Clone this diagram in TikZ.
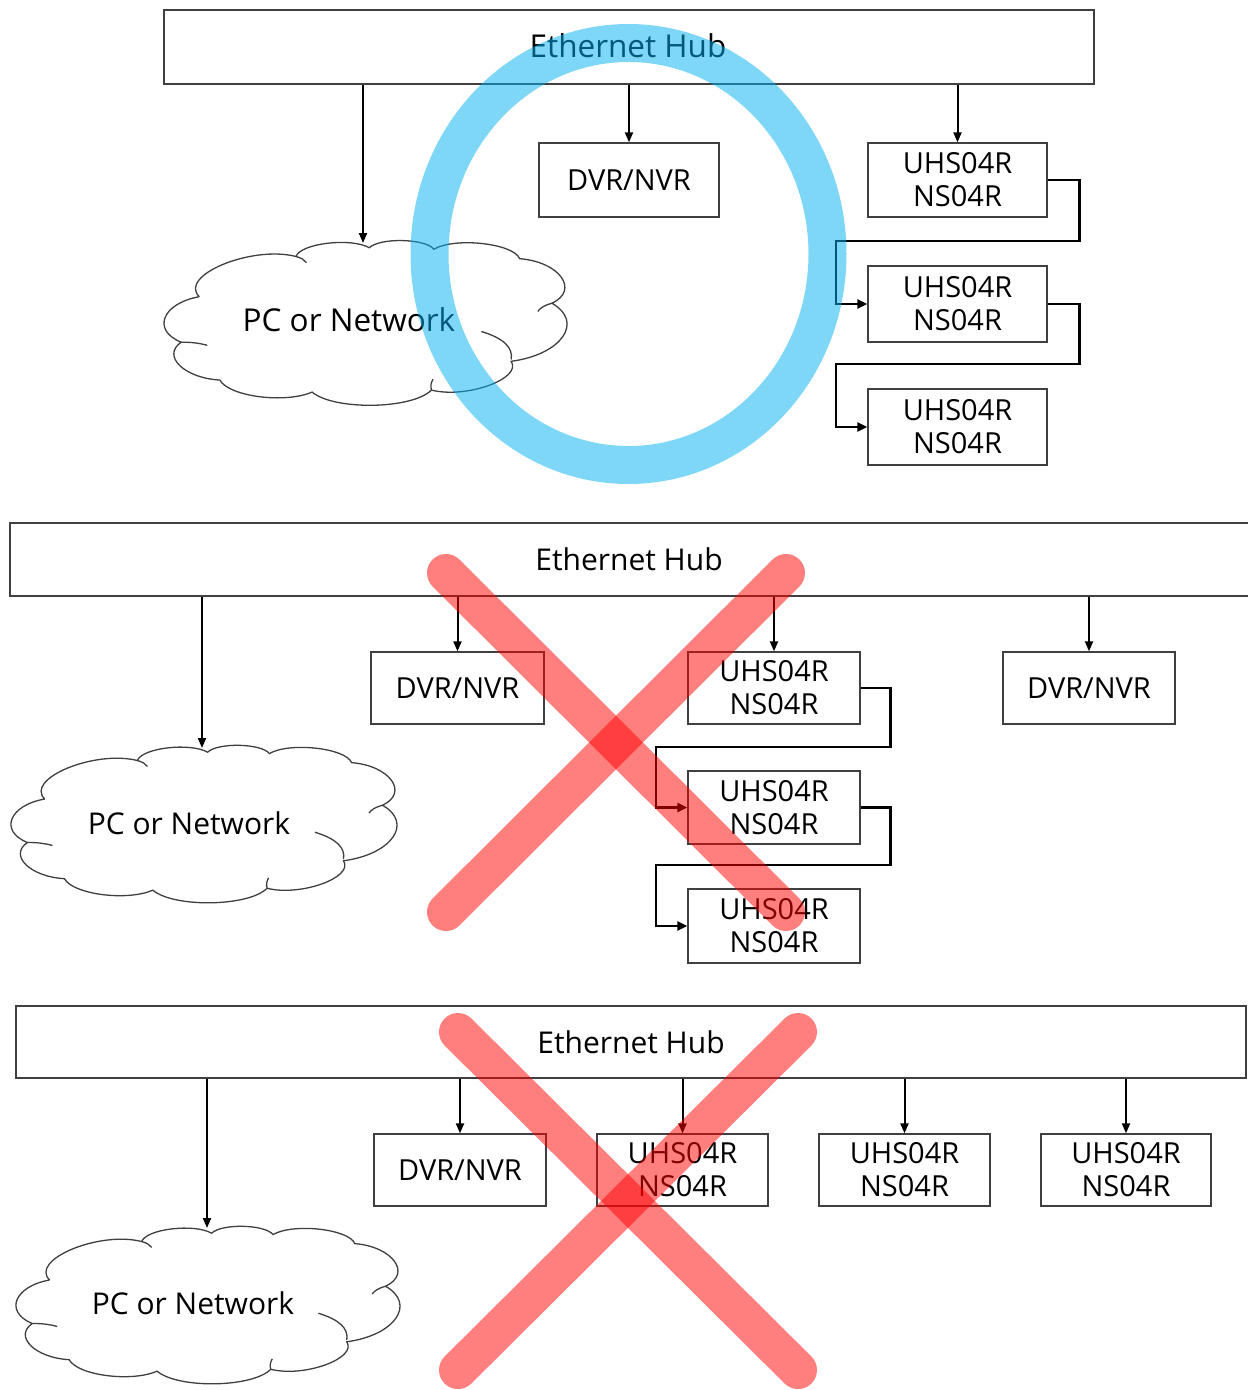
\documentclass[tikz,border=0pt]{standalone}
\usepackage{fontspec}
\setmainfont{Open Sans}
\usetikzlibrary{arrows.meta,calc}
\definecolor{hl}{HTML}{00B0F0}
\definecolor{edge}{HTML}{404040}
\tikzset{
  box/.style={draw=edge,line width=1.3pt,inner sep=0pt,align=center,
    font=\fontsize{29}{33}\selectfont,text=black},
  lbl/.style={inner sep=0pt,font=\fontsize{30}{34}\selectfont,text=black},
  lblbig/.style={inner sep=0pt,font=\fontsize{31.5}{35}\selectfont,text=black},
  arr/.style={line width=2pt,-{Triangle[length=10pt,width=8pt]}},
  elbow/.style={line width=2.6pt,-{Triangle[length=10pt,width=9pt]}},
  cloudline/.style={draw=edge,line width=1.3pt},
  ring/.style={draw=hl,opacity=0.5,line width=38pt},
  cross/.style={draw=red,opacity=0.5,line width=38pt,line cap=round},
}
\newcommand\officecloud[4]{%
\begin{scope}[shift={(#1,#2)},xscale=#3,yscale=#4]
\draw[cloudline] (0.090,0.339) to[bend left=72] (0.330,0.118)
  to[bend left=66] (0.512,0.070) to[bend left=68] (0.672,0.078)
  to[bend left=66] (0.885,0.130) to[bend left=62] (0.965,0.375)
  to[bend left=56] (0.864,0.694) to[bend left=68] (0.666,0.852)
  to[bend left=64] (0.370,0.863) to[bend left=60] (0.141,0.797)
  to[bend left=58] (0.045,0.589) to[bend left=58] (0.090,0.339);
\draw[cloudline] (0.330,0.118) to[bend left=20] (0.356,0.152);
\draw[cloudline] (0.965,0.375) to[bend right=20] (0.930,0.420);
\draw[cloudline] (0.790,0.530) to[bend left=30] (0.864,0.684);
\draw[cloudline] (0.666,0.852) to[bend left=10] (0.670,0.792);
\draw[cloudline] (0.045,0.589) to[bend left=15] (0.110,0.606);
\end{scope}}
\begin{document}
\begin{tikzpicture}[x=1pt,y=-1pt]
\clip (0,0) rectangle (1248,1390);
\fill[white] (0,0) rectangle (1248,1390);

% ---------------- panel 1 ----------------
\node[box,minimum width=930pt,minimum height=74pt] (hub1) at (629,47) {};
\node[lblbig] (hub1t) at (628,46) {Ethernet Hub};
\node[box,minimum width=180pt,minimum height=74pt] (dvr1) at (629,180) {DVR/NVR};
\node[box,minimum width=179pt,minimum height=74pt] (u11) at (957.5,180) {UHS04R\\NS04R};
\node[box,minimum width=179pt,minimum height=76pt] (u12) at (957.5,304) {UHS04R\\NS04R};
\node[box,minimum width=179pt,minimum height=76pt] (u13) at (957.5,427) {UHS04R\\NS04R};
\officecloud{163}{235}{403}{182}
\node[lblbig] (cl1) at (349,320) {PC or Network};
\coordinate (cl1top) at (363,243);
\draw[arr] (hub1.south -| cl1top) -- (cl1top);
\draw[arr] (hub1.south -| dvr1.north) -- (dvr1.north);
\draw[arr] (hub1.south -| u11.north) -- (u11.north);
\draw[elbow] (u11.east) -- ++(32,0) |- (836,241) |- (u12.west);
\draw[elbow] (u12.east) -- ++(32,0) |- (836,364) |- (u13.west);
\draw[ring] (628.5,254) ellipse [x radius=199, y radius=211];

% ---------------- panel 2 ----------------
\node[box,minimum width=1250pt,minimum height=73pt] (hub2) at (635,559.5) {};
\node[lbl] (hub2t) at (629,559) {Ethernet Hub};
\node[box,minimum width=173pt,minimum height=72pt] (dvr2) at (457.5,688) {DVR/NVR};
\node[box,minimum width=172pt,minimum height=72pt] (u21) at (774,688) {UHS04R\\NS04R};
\node[box,minimum width=172pt,minimum height=73pt] (u22) at (774,807.5) {UHS04R\\NS04R};
\node[box,minimum width=172pt,minimum height=74pt] (u23) at (774,926) {UHS04R\\NS04R};
\node[box,minimum width=172pt,minimum height=72pt] (dvr2b) at (1089,688) {DVR/NVR};
\officecloud{10}{740}{386}{174}
\node[lbl] (cl2) at (189,823) {PC or Network};
\coordinate (cl2top) at (202,748);
\draw[arr] (hub2.south -| cl2top) -- (cl2top);
\draw[arr] (hub2.south -| dvr2.north) -- (dvr2.north);
\draw[arr] (hub2.south -| u21.north) -- (u21.north);
\draw[arr] (hub2.south -| dvr2b.north) -- (dvr2b.north);
\draw[elbow] (u21.east) -- ++(30,0) |- (656,747) |- (u22.west);
\draw[elbow] (u22.east) -- ++(30,0) |- (656,865) |- (u23.west);
\coordinate (x2a) at (446,573); \coordinate (x2b) at (786,912);
\coordinate (x2c) at (786,573); \coordinate (x2d) at (446,912);
\draw[cross] (x2a) -- (x2b);
\draw[cross] (x2c) -- (x2d);

% ---------------- panel 3 ----------------
\node[box,minimum width=1230pt,minimum height=72pt] (hub3) at (631,1042) {};
\node[lbl] (hub3t) at (631,1042) {Ethernet Hub};
\node[box,minimum width=172pt,minimum height=72pt] (dvr3) at (460,1170) {DVR/NVR};
\node[box,minimum width=171pt,minimum height=72pt] (u31) at (682.5,1170) {UHS04R\\NS04R};
\node[box,minimum width=171pt,minimum height=72pt] (u32) at (904.5,1170) {UHS04R\\NS04R};
\node[box,minimum width=170pt,minimum height=72pt] (u33) at (1126,1170) {UHS04R\\NS04R};
\officecloud{15}{1221}{384}{174}
\node[lbl] (cl3) at (193,1303) {PC or Network};
\coordinate (cl3top) at (207,1228);
\draw[arr] (hub3.south -| cl3top) -- (cl3top);
\draw[arr] (hub3.south -| dvr3.north) -- (dvr3.north);
\draw[arr] (hub3.south -| u31.north) -- (u31.north);
\draw[arr] (hub3.south -| u32.north) -- (u32.north);
\draw[arr] (hub3.south -| u33.north) -- (u33.north);
\coordinate (x3a) at (458,1032); \coordinate (x3b) at (798,1370);
\coordinate (x3c) at (798,1032); \coordinate (x3d) at (458,1370);
\draw[cross] (x3a) -- (x3b);
\draw[cross] (x3c) -- (x3d);
\end{tikzpicture}
\end{document}
